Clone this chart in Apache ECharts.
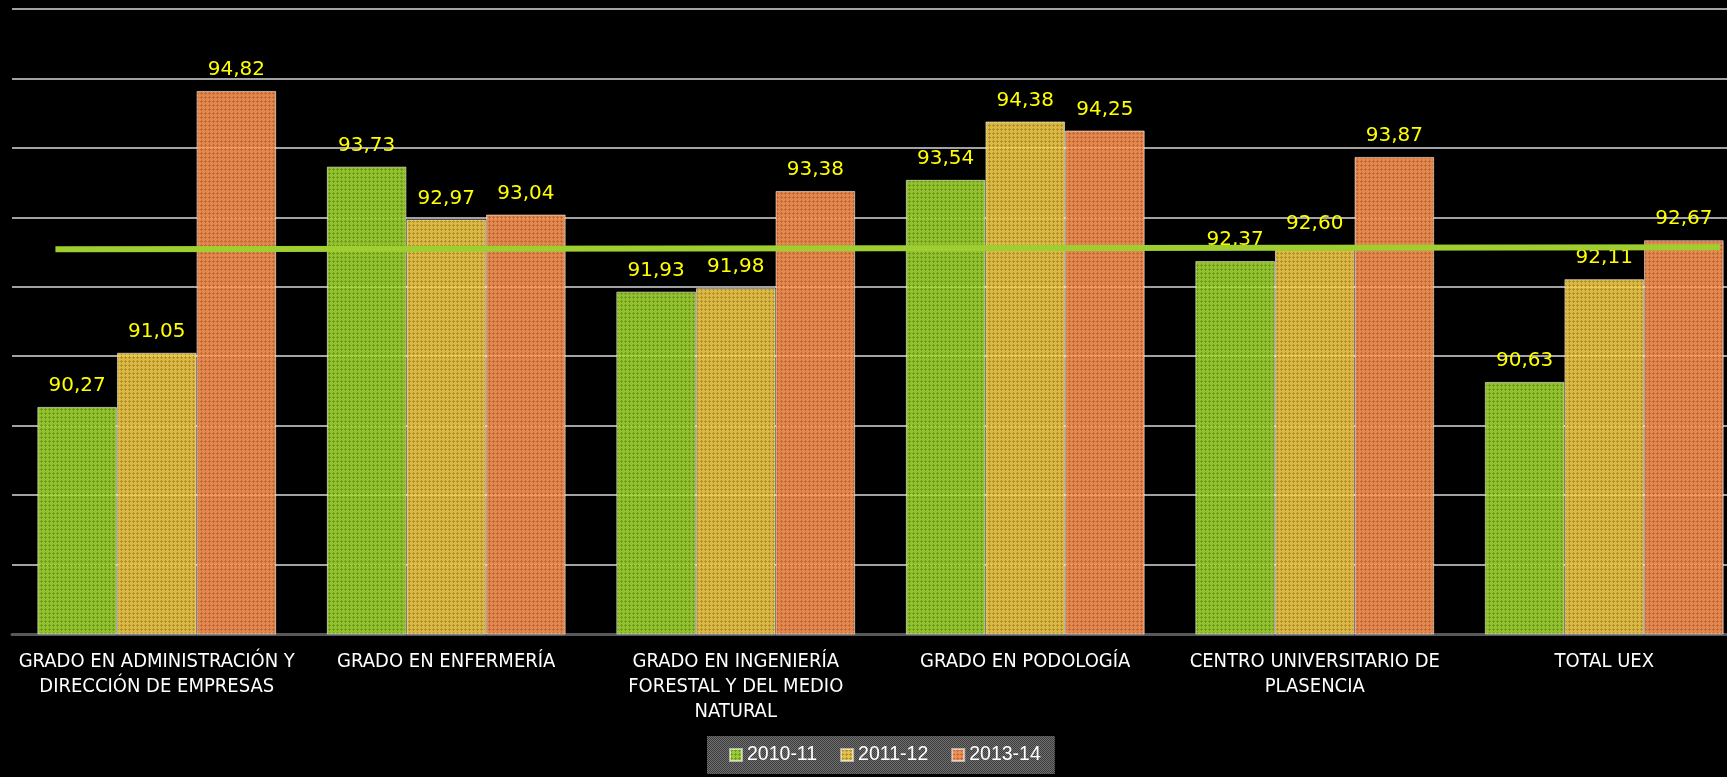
<!DOCTYPE html>
<html>
<head>
<meta charset="utf-8">
<script src="https://cdn.jsdelivr.net/npm/echarts@6/dist/echarts.min.js"></script>
<style>
html,body{margin:0;padding:0;background:#000;}
#chart{width:1727px;height:777px;}
</style>
</head>
<body>
<div id="chart"></div>
<script>
const categories = [
  "GRADO EN ADMINISTRACIÓN Y\nDIRECCIÓN DE EMPRESAS",
  "GRADO EN ENFERMERÍA",
  "GRADO EN INGENIERÍA\nFORESTAL Y DEL MEDIO\nNATURAL",
  "GRADO EN PODOLOGÍA",
  "CENTRO UNIVERSITARIO DE\nPLASENCIA",
  "TOTAL UEX"
];
const seriesNames = ["2010-11", "2011-12", "2013-14"];
const values2010 = [90.27, 93.73, 91.93, 93.54, 92.37, 90.63];
const values2011 = [91.05, 92.97, 91.98, 94.38, 92.60, 92.11];
const values2013 = [94.82, 93.04, 93.38, 94.25, 93.87, 92.67];
// reference line: [position in category units, value]
const refLine = [[0.15, 92.54], [5.90, 92.57]];

function makePattern(light, dark) {
  const c = document.createElement('canvas');
  c.width = 4; c.height = 4;
  const ctx = c.getContext('2d');
  ctx.fillStyle = light;
  ctx.fillRect(0, 0, 4, 4);
  ctx.fillStyle = dark;
  ctx.fillRect(1, 0, 1, 1);
  ctx.fillRect(0, 1, 3, 1);
  ctx.fillRect(1, 2, 1, 1);
  return { image: c, repeat: 'repeat' };
}
function makeLegendBg() {
  const c = document.createElement('canvas');
  c.width = 2; c.height = 2;
  const ctx = c.getContext('2d');
  ctx.fillStyle = '#707070'; ctx.fillRect(0, 0, 2, 2);
  ctx.fillStyle = '#3c3c3c'; ctx.fillRect(0, 0, 1, 1); ctx.fillRect(1, 1, 1, 1);
  return { image: c, repeat: 'repeat' };
}

const fills = [
  makePattern('rgba(162,216,52,0.9)', 'rgba(112,152,30,0.9)'),
  makePattern('rgba(242,206,76,0.9)', 'rgba(176,140,40,0.9)'),
  makePattern('rgba(252,152,86,0.9)', 'rgba(192,102,56,0.9)')
];
const allValues = [values2010, values2011, values2013];

const chart = echarts.init(document.getElementById('chart'), null, { renderer: 'canvas' });

const barSeries = allValues.map((vals, i) => ({
  name: seriesNames[i],
  type: 'bar',
  data: vals,
  barGap: '0%',
  barCategoryGap: '17.5%',
  z: 2,
  itemStyle: { color: fills[i], borderColor: 'rgba(255,255,255,0.55)', borderWidth: 1 },
  label: {
    show: true,
    position: 'top',
    distance: 11,
    color: '#ffff00',
    fontFamily: 'DejaVu Sans',
    fontSize: 20,
    formatter: p => p.value.toFixed(2).replace('.', ',')
  },
  emphasis: { disabled: true }
}));

chart.setOption({
  backgroundColor: '#000',
  animation: false,
  grid: { left: 12, width: 1737, top: 9, bottom: 143, containLabel: false, outerBoundsMode: 'none' },
  xAxis: [
    {
      type: 'category',
      data: categories,
      axisLine: { show: true, lineStyle: { color: '#595959', width: 3 } },
      axisTick: { show: false },
      axisLabel: {
        interval: 0,
        margin: 15,
        color: '#ffffff',
        fontFamily: "'DejaVu Sans Condensed', 'Liberation Sans Narrow', sans-serif",
        fontSize: 20,
        lineHeight: 25,
        align: 'center'
      }
    },
    { type: 'value', min: 0, max: 6, show: false }
  ],
  yAxis: {
    type: 'value',
    min: 87, max: 96, interval: 1,
    axisLabel: { show: false },
    axisLine: { show: false },
    axisTick: { show: false },
    splitLine: { show: true, lineStyle: { color: '#d9d9d9', width: 1.5 } }
  },
  legend: {
    data: seriesNames,
    left: 707,
    top: 736,
    padding: [9, 14, 9, 22],
    itemGap: 23,
    itemWidth: 12,
    itemHeight: 12,
    backgroundColor: makeLegendBg(),
    textStyle: {
      color: '#ffffff',
      fontFamily: "'Liberation Sans', Arial, sans-serif",
      fontSize: 19.5
    },
    icon: 'rect'
  },
  series: barSeries.concat([{
    name: 'ref',
    type: 'line',
    xAxisIndex: 1,
    data: refLine,
    symbol: 'none',
    z: 10,
    lineStyle: { color: '#9fce30', width: 6 },
    emphasis: { disabled: true },
    silent: true
  }])
});
</script>
</body>
</html>
